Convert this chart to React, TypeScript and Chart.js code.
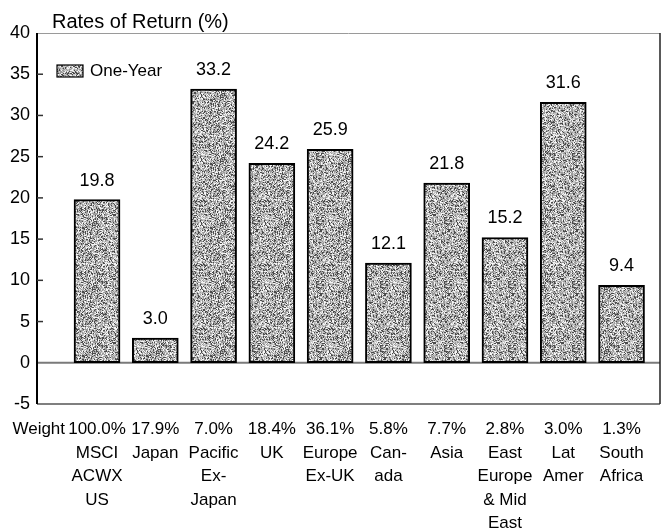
import { useEffect, useRef } from "react";
import { Chart, registerables } from "chart.js";

Chart.register(...registerables);

// ---- data ----
const rowLabel = "Weight";
const weights = ["100.0%", "17.9%", "7.0%", "18.4%", "36.1%", "5.8%", "7.7%", "2.8%", "3.0%", "1.3%"];
const regionNames = [
  ["MSCI", "ACWX", "US"],
  ["Japan"],
  ["Pacific", "Ex-", "Japan"],
  ["UK"],
  ["Europe", "Ex-UK"],
  ["Can-", "ada"],
  ["Asia"],
  ["East", "Europe", "& Mid", "East"],
  ["Lat", "Amer"],
  ["South", "Africa"],
];
const oneYear = [19.8, 3.0, 33.2, 24.2, 25.9, 12.1, 21.8, 15.2, 31.6, 9.4];
const yTicks = [-5, 0, 5, 10, 15, 20, 25, 30, 35, 40];
const seriesName = "One-Year";
const titleText = "Rates of Return (%)";

const FONT = '"Liberation Sans", Arial, sans-serif';

function hash(n: number): number {
  let x = n | 0;
  x = Math.imul(x ^ (x >>> 16), 0x45d9f3b);
  x = Math.imul(x ^ (x >>> 16), 0x45d9f3b);
  x = x ^ (x >>> 16);
  return (x >>> 0) % 1000;
}

function makePattern(): CanvasPattern | string {
  const c = document.createElement("canvas");
  const N = 64;
  c.width = N;
  c.height = N;
  const g = c.getContext("2d");
  if (!g) return "#a8a8a8";
  const img = g.createImageData(N, N);
  for (let i = 0; i < N * N; i++) {
    const r = hash(i * 7919 + 17);
    let v: number;
    if (r < 200) v = 75;
    else if (r < 500) v = 155;
    else if (r < 800) v = 200;
    else v = 245;
    img.data[i * 4] = v;
    img.data[i * 4 + 1] = v;
    img.data[i * 4 + 2] = v;
    img.data[i * 4 + 3] = 255;
  }
  g.putImageData(img, 0, 0);
  return g.createPattern(c, "repeat") || "#a8a8a8";
}

export default function App() {
  const ref = useRef<HTMLCanvasElement | null>(null);

  useEffect(() => {
    if (!ref.current) return;
    const pattern = makePattern();

    const framePlugin = {
      id: "frame",
      beforeDatasetsDraw(chart: any) {
        const { ctx, chartArea } = chart;
        const y = chart.scales.y;
        const z = y.getPixelForValue(0);
        ctx.save();
        ctx.strokeStyle = "#7a7a7a";
        ctx.lineWidth = 2;
        ctx.beginPath();
        ctx.moveTo(chartArea.left, z);
        ctx.lineTo(chartArea.right, z);
        ctx.stroke();
        ctx.restore();
      },
      afterDatasetsDraw(chart: any) {
        const { ctx, chartArea } = chart;
        const y = chart.scales.y;
        ctx.save();
        // top
        ctx.strokeStyle = "#9a9a9a";
        ctx.lineWidth = 1;
        ctx.beginPath();
        ctx.moveTo(chartArea.left, chartArea.top + 0.5);
        ctx.lineTo(chartArea.right, chartArea.top + 0.5);
        ctx.stroke();
        // bottom
        ctx.strokeStyle = "#555";
        ctx.lineWidth = 1.5;
        ctx.beginPath();
        ctx.moveTo(chartArea.left, chartArea.bottom);
        ctx.lineTo(chartArea.right, chartArea.bottom);
        ctx.stroke();
        // right
        ctx.strokeStyle = "#222";
        ctx.lineWidth = 1.5;
        ctx.beginPath();
        ctx.moveTo(chartArea.right, chartArea.top);
        ctx.lineTo(chartArea.right, chartArea.bottom);
        ctx.stroke();
        // left axis
        ctx.strokeStyle = "#000";
        ctx.lineWidth = 2;
        ctx.beginPath();
        ctx.moveTo(chartArea.left, chartArea.top);
        ctx.lineTo(chartArea.left, chartArea.bottom);
        ctx.stroke();
        // inward ticks
        ctx.lineWidth = 1.5;
        ctx.strokeStyle = "#333";
        for (const t of yTicks) {
          if (t === 0 || t === -5 || t === 40) continue;
          const py = y.getPixelForValue(t);
          ctx.beginPath();
          ctx.moveTo(chartArea.left, py);
          ctx.lineTo(chartArea.left + 6, py);
          ctx.stroke();
        }
        // value labels
        ctx.fillStyle = "#000";
        ctx.font = `18px ${FONT}`;
        ctx.textAlign = "center";
        ctx.textBaseline = "bottom";
        const meta = chart.getDatasetMeta(0);
        meta.data.forEach((el: any, i: number) => {
          ctx.fillText(oneYear[i].toFixed(1), el.x, el.y - 10);
        });
        // legend
        const lx = chartArea.left + 20;
        const ly = chartArea.top + 32;
        ctx.fillStyle = pattern as any;
        ctx.fillRect(lx, ly, 26, 12);
        ctx.strokeStyle = "#000";
        ctx.lineWidth = 1.2;
        ctx.strokeRect(lx, ly, 26, 12);
        ctx.fillStyle = "#000";
        ctx.font = `17px ${FONT}`;
        ctx.textAlign = "left";
        ctx.textBaseline = "middle";
        ctx.fillText(seriesName, lx + 33, ly + 6);
        // title
        ctx.font = `20px ${FONT}`;
        ctx.textBaseline = "alphabetic";
        ctx.fillText(titleText, chartArea.left + 15, chartArea.top - 5);
        ctx.restore();
      },
    };

    const chart = new Chart(ref.current, {
      type: "bar",
      data: {
        datasets: [
          {
            label: seriesName,
            data: oneYear.map((v, i) => ({ x: i, y: v })),
            backgroundColor: pattern as any,
            borderColor: "#000",
            borderWidth: 2,
            borderSkipped: false,
            barThickness: 46,
          },
        ],
      },
      options: {
        animation: false,
        responsive: false,
        layout: { padding: { top: 33, right: 9, left: 0, bottom: 0 } },
        plugins: {
          legend: { display: false },
          title: { display: false },
          tooltip: { enabled: false },
        },
        scales: {
          x: {
            type: "linear",
            offset: false,
            min: -1.03,
            max: 9.66,
            afterBuildTicks: (scale: any) => {
              scale.ticks = [-1, 0, 1, 2, 3, 4, 5, 6, 7, 8, 9].map((v) => ({ value: v }));
            },
            afterFit: (scale: any) => {
              scale.height = 127;
              scale.paddingLeft = 0;
              scale.paddingRight = 0;
            },
            grid: { display: false, drawTicks: false, offset: false },
            border: { display: false },
            ticks: {
              autoSkip: false,
              maxRotation: 0,
              padding: 14,
              color: "#000",
              font: { family: FONT, size: 17, lineHeight: 1.38 },
              callback: (v: any) => {
                const i = Number(v);
                if (i === -1) return [rowLabel];
                return [weights[i], ...regionNames[i]];
              },
            },
          },
          y: {
            type: "linear",
            min: -5,
            max: 40,
            afterBuildTicks: (scale: any) => {
              scale.ticks = yTicks.map((v) => ({ value: v }));
            },
            afterFit: (scale: any) => {
              scale.width = 37;
              scale.paddingTop = 0;
              scale.paddingBottom = 0;
            },
            grid: { display: false, drawTicks: false },
            border: { display: false },
            ticks: {
              padding: 7,
              color: "#000",
              font: { family: FONT, size: 18 },
            },
          },
        },
      },
      plugins: [framePlugin],
    });
    return () => chart.destroy();
  }, []);

  return (
    <div style={{ position: "fixed", left: 0, top: 0, width: 669, height: 531, background: "#fff" }}>
      <canvas ref={ref} width={669} height={531} />
    </div>
  );
}
